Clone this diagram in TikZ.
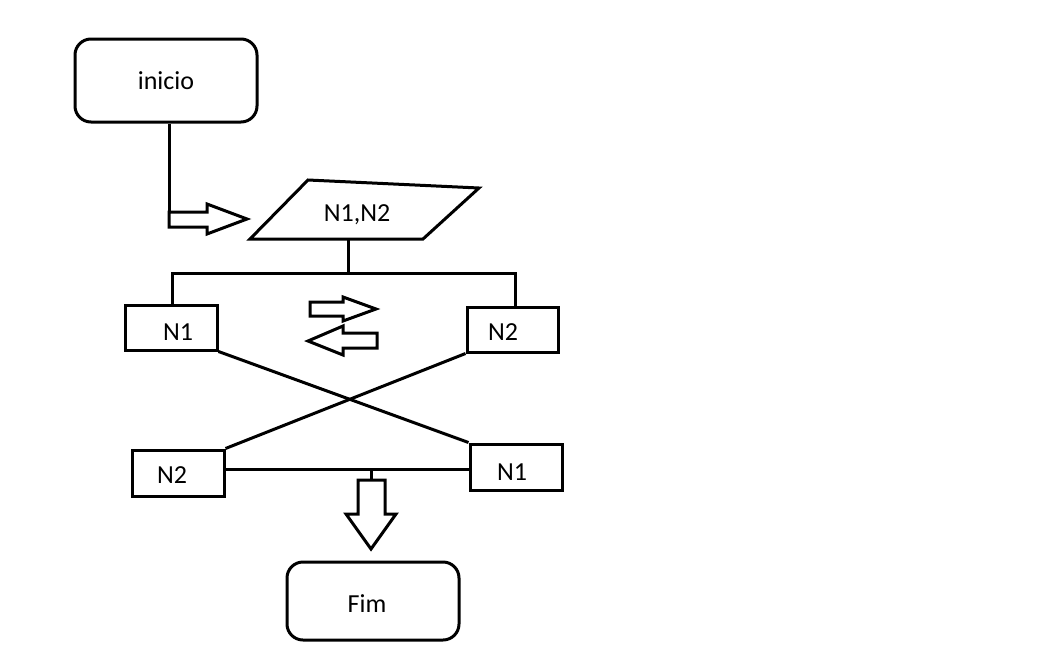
\documentclass[tikz,border=0pt]{standalone}
\usepackage{fontspec}
\setmainfont{Carlito}
\begin{document}
\begin{tikzpicture}[x=1pt,y=-1pt,line width=3pt,line join=miter,
  term/.style={draw,rounded corners=16pt,inner sep=0pt},
  box/.style={draw,inner sep=0pt,minimum width=92pt,minimum height=45pt},
  lbl/.style={font=\fontsize{26}{30}\selectfont,inner sep=0pt},
  blk/.style={draw,fill=white}]
\useasboundingbox (0,0) rectangle (1048,664);
% start
\node[term,minimum width=182pt,minimum height=83pt,lbl] (inicio) at (166,80.5) {inicio};
% input parallelogram
\coordinate (p1) at (308,180);
\coordinate (p2) at (479,188);
\coordinate (p3) at (423,239);
\coordinate (p4) at (250,239);
\draw (p1) -- (p2) -- (p3) -- (p4) -- cycle;
\node[lbl] (entrada) at (357,215) {N1,N2};
% arrow from inicio to input
\coordinate (atail) at (169,212);
\draw ([xshift=3pt]inicio.south) -- (atail);
\draw[blk] (169,212) -- (207,212) -- (207,204) -- (247,219) -- (207,234) -- (207,227) -- (169,227) -- cycle;
% upper boxes
\node[box] (n1a) at (171,327.5) {};
\node[lbl] (t1a) at (178,332) {N1};
\node[box,minimum width=91pt] (n2a) at (512.5,329.5) {};
\node[lbl] (t2a) at (503,332) {N2};
% split
\coordinate (pb) at (348,239);
\coordinate (split) at (348,273);
\draw (pb) -- (split);
\draw ([xshift=1pt]n1a.north) |- (split) -| ([xshift=2.5pt]n2a.north);
% swap arrows
\draw[blk] (310,302) -- (343,302) -- (343,297) -- (376,309) -- (343,321) -- (343,316) -- (310,316) -- cycle;
\draw[blk] (377,333) -- (343,333) -- (343,326) -- (308,341) -- (343,355) -- (343,348) -- (377,348) -- cycle;
% lower boxes
\node[box,minimum height=46pt] (n2b) at (178,473) {};
\node[lbl] (t2b) at (172,475) {N2};
\node[box,minimum height=46pt] (n1b) at (516,467) {};
\node[lbl] (t1b) at (512,472) {N1};
% crossing lines
\draw (n1a.south east) -- (n1b.north west);
\draw (n2a.south west) -- (n2b.north east);
% join
\coordinate (join) at (371,469);
\draw (n2b.east |- join) -- (n1b.west |- join);
\coordinate (dtop) at (371,480);
\draw (join) -- (dtop);
\draw[blk] (358,480) -- (385,480) -- (385,514) -- (396,514) -- (371,549) -- (346,514) -- (358,514) -- cycle;
% end
\node[term,minimum width=172pt,minimum height=78pt] (fim) at (373,601) {};
\node[lbl] (tfim) at (367,604) {Fim};
\end{tikzpicture}
\end{document}
